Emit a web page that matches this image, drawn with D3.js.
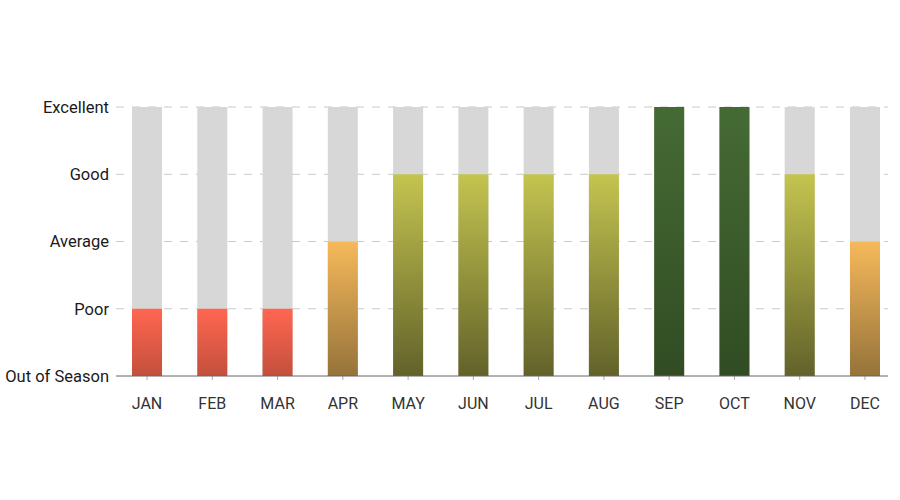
<!DOCTYPE html>
<html>
<head>
<meta charset="utf-8">
<script src="https://cdn.jsdelivr.net/npm/d3@7"></script>
<style>
  body { margin: 0; background: #fff; }
  svg text { font-family: Roboto, "Noto Sans", sans-serif; }
</style>
</head>
<body>
<svg width="900" height="500"></svg>
<script>
var months = ["JAN", "FEB", "MAR", "APR", "MAY", "JUN", "JUL", "AUG", "SEP", "OCT", "NOV", "DEC"];
var ratings = [1, 1, 1, 2, 3, 3, 3, 3, 4, 4, 3, 2];
var levelLabels = ["Out of Season", "Poor", "Average", "Good", "Excellent"];
var gradTop = ["#ffffff", "#ff6651", "#f6b95b", "#c4c450", "#456b34"];
var gradBottom = ["#ffffff", "#c3503c", "#95733a", "#62622a", "#314c23"];

var svg = d3.select("svg");
var margin = { top: 107, right: 12, bottom: 124, left: 116 };
var width = 900 - margin.left - margin.right;
var height = 500 - margin.top - margin.bottom;

var x = d3.scaleBand().domain(months).range([4, width + 4]).paddingInner(0.54).paddingOuter(0.184);
var y = d3.scaleLinear().domain([0, 4]).range([height, 0]);

var defs = svg.append("defs");
for (var i = 1; i < 5; i++) {
    var g = defs.append("linearGradient").attr("id", "grad" + i)
        .attr("x1", 0).attr("y1", 0).attr("x2", 0).attr("y2", 1);
    g.append("stop").attr("offset", "0%").attr("stop-color", gradTop[i]);
    g.append("stop").attr("offset", "100%").attr("stop-color", gradBottom[i]);
}

var chart = svg.append("g").attr("transform", "translate(" + margin.left + "," + margin.top + ")");

// dashed grid
chart.append("g").selectAll("line")
    .data([1, 2, 3, 4])
    .enter().append("line")
    .attr("x1", 0).attr("x2", width)
    .attr("y1", function (d) { return y(d); })
    .attr("y2", function (d) { return y(d); })
    .style("stroke", "#c8c8c8")
    .style("stroke-dasharray", "8,8")
    .style("stroke-width", "1px");

// background bars
chart.append("g").selectAll("rect")
    .data(months)
    .enter().append("rect")
    .attr("x", function (d) { return x(d); })
    .attr("width", x.bandwidth())
    .attr("y", y(4))
    .attr("height", y(0) - y(4))
    .style("fill", "#d7d7d7");

// rating bars
chart.append("g").selectAll("rect")
    .data(ratings)
    .enter().append("rect")
    .attr("x", function (d, i) { return x(months[i]); })
    .attr("width", x.bandwidth())
    .attr("y", function (d) { return y(d); })
    .attr("height", function (d) { return y(0) - y(d); })
    .style("fill", function (d) { return "url(#grad" + d + ")"; });

// y axis labels
var yAxis = chart.append("g")
    .call(d3.axisLeft(y).tickValues([0, 1, 2, 3, 4])
        .tickFormat(function (d) { return levelLabels[d]; })
        .tickSize(0).tickPadding(7));
yAxis.select(".domain").remove();
yAxis.selectAll("text").style("font-size", "16.5px").style("fill", "#1a1a1a");

// x axis
var xAxis = chart.append("g")
    .attr("transform", "translate(0," + height + ")")
    .call(d3.axisBottom(x).tickSize(4).tickSizeOuter(0).tickPadding(18));
xAxis.select(".domain").remove();
xAxis.append("line").attr("x1", 0).attr("x2", width)
    .style("stroke", "#666").style("stroke-width", "1px");
xAxis.selectAll(".tick line").style("stroke", "#aaa");
xAxis.selectAll("text").style("font-size", "16px").style("fill", "#333");
</script>
</body>
</html>
